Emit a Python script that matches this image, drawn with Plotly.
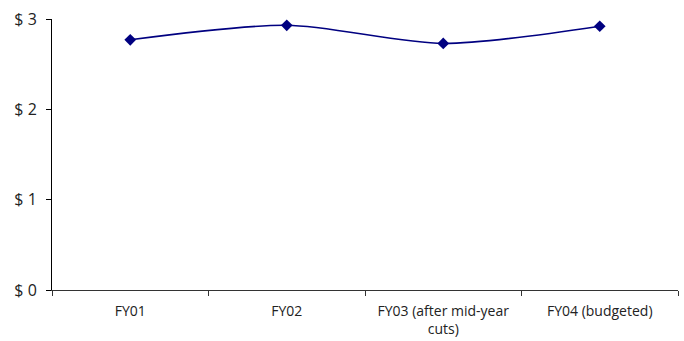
import plotly.graph_objects as go

categories = ["FY01", "FY02", "FY03 (after mid-year<br>cuts)", "FY04 (budgeted)"]
values = [2.77, 2.93, 2.73, 2.92]
y_ticks = [0, 1, 2, 3]
y_tick_labels = ["$ 0", "$ 1", "$ 2", "$ 3"]

fig = go.Figure()
fig.add_trace(go.Scatter(
    x=categories, y=values, mode="lines+markers",
    line=dict(color="#000080", width=1.6, shape="spline", smoothing=0.8),
    marker=dict(symbol="diamond", size=9, color="#000080"),
    cliponaxis=False,
))

fig.update_layout(
    width=684, height=341,
    margin=dict(l=52, r=6, t=19, b=51, autoexpand=False),
    paper_bgcolor="white", plot_bgcolor="white",
    showlegend=False,
    font=dict(family="Open Sans, sans-serif", color="#222222"),
)
fig.update_xaxes(
    type="category", range=[-0.5, 3.5], tickson="boundaries",
    ticks="outside", ticklen=5, tickcolor="#333333",
    showline=True, linecolor="#333333", linewidth=1,
    showgrid=False, zeroline=False, automargin=False,
    tickfont=dict(size=14), ticklabelstandoff=8,
)
fig.update_yaxes(
    range=[0, 3], tickvals=y_ticks, ticktext=y_tick_labels,
    ticks="outside", ticklen=5, tickcolor="#000000",
    showline=True, linecolor="#000000", linewidth=1,
    showgrid=False, zeroline=False, automargin=False,
    tickfont=dict(size=16), ticklabelstandoff=6,
)
fig.write_html("out.html", config={"displayModeBar": False})

with open("out.html", "r", encoding="utf-8") as f:
    html = f.read()
html = html.replace("<body>", '<body style="margin:0;padding:0;">', 1)
with open("out.html", "w", encoding="utf-8") as f:
    f.write(html)
